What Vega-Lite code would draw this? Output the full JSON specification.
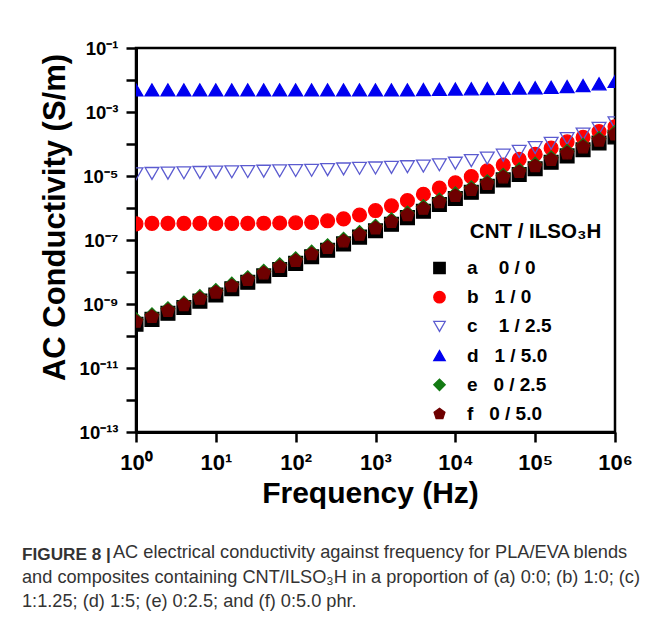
{
  "$schema": "https://vega.github.io/schema/vega-lite/v6.json",
  "width": 479,
  "height": 384,
  "autosize": "none",
  "padding": {"left": 136, "top": 48, "right": 40, "bottom": 194},
  "background": "white",
  "title": {
    "text": "FIGURE 8 |",
    "subtitle": [
      "\u200b\u00a0\u00a0\u00a0\u00a0\u00a0\u00a0\u00a0\u00a0\u00a0\u00a0\u00a0\u00a0\u00a0\u00a0\u00a0\u00a0\u00a0\u00a0AC electrical conductivity against frequency for PLA/EVA blends",
      "and composites containing CNT/ILSO\u2083H in a proportion of (a) 0:0; (b) 1:0; (c)",
      "1:1.25; (d) 1:5; (e) 0:2.5; and (f) 0:5.0 phr."
    ],
    "orient": "bottom",
    "anchor": "start",
    "frame": "group",
    "dx": -114,
    "offset": 38,
    "font": "Liberation Sans",
    "fontSize": 17.2,
    "fontWeight": "bold",
    "color": "#333333",
    "subtitleFont": "Liberation Sans",
    "subtitleFontSize": 18.2,
    "subtitleColor": "#333333",
    "subtitleLineHeight": 24.5,
    "subtitlePadding": -19
  },
  "data": {
    "values": [
      {"freq": 1, "a": 2.34e-10, "b": 3.2e-7, "c": 1.17e-5, "d": 4.9e-3, "e": 3.24e-10, "f": 2.82e-10},
      {"freq": 1.585, "a": 3.30e-10, "b": 3.3e-7, "c": 1.20e-5, "d": 4.9e-3, "e": 4.58e-10, "f": 3.98e-10},
      {"freq": 2.512, "a": 5.12e-10, "b": 3.3e-7, "c": 1.23e-5, "d": 4.9e-3, "e": 7.10e-10, "f": 6.17e-10},
      {"freq": 3.981, "a": 7.74e-10, "b": 3.3e-7, "c": 1.26e-5, "d": 4.9e-3, "e": 1.07e-9, "f": 9.33e-10},
      {"freq": 6.31, "a": 1.23e-9, "b": 3.3e-7, "c": 1.29e-5, "d": 4.9e-3, "e": 1.70e-9, "f": 1.48e-9},
      {"freq": 10, "a": 1.90e-9, "b": 3.3e-7, "c": 1.32e-5, "d": 4.9e-3, "e": 2.63e-9, "f": 2.29e-9},
      {"freq": 15.85, "a": 3.01e-9, "b": 3.3e-7, "c": 1.35e-5, "d": 4.9e-3, "e": 4.17e-9, "f": 3.63e-9},
      {"freq": 25.12, "a": 4.77e-9, "b": 3.3e-7, "c": 1.38e-5, "d": 4.9e-3, "e": 6.61e-9, "f": 5.75e-9},
      {"freq": 39.81, "a": 7.57e-9, "b": 3.35e-7, "c": 1.41e-5, "d": 4.9e-3, "e": 1.05e-8, "f": 9.12e-9},
      {"freq": 63.1, "a": 1.20e-8, "b": 3.4e-7, "c": 1.45e-5, "d": 4.9e-3, "e": 1.67e-8, "f": 1.45e-8},
      {"freq": 100, "a": 1.86e-8, "b": 3.45e-7, "c": 1.48e-5, "d": 4.9e-3, "e": 2.58e-8, "f": 2.24e-8},
      {"freq": 158.5, "a": 3.01e-8, "b": 3.55e-7, "c": 1.51e-5, "d": 4.9e-3, "e": 4.17e-8, "f": 3.63e-8},
      {"freq": 251.2, "a": 4.77e-8, "b": 3.98e-7, "c": 1.58e-5, "d": 4.9e-3, "e": 6.61e-8, "f": 5.75e-8},
      {"freq": 398.1, "a": 7.57e-8, "b": 4.57e-7, "c": 1.66e-5, "d": 4.9e-3, "e": 1.05e-7, "f": 9.12e-8},
      {"freq": 631, "a": 1.23e-7, "b": 6.03e-7, "c": 1.74e-5, "d": 4.9e-3, "e": 1.70e-7, "f": 1.48e-7},
      {"freq": 1000, "a": 1.94e-7, "b": 8.32e-7, "c": 1.78e-5, "d": 4.9e-3, "e": 2.69e-7, "f": 2.34e-7},
      {"freq": 1585, "a": 3.09e-7, "b": 1.17e-6, "c": 1.86e-5, "d": 4.9e-3, "e": 4.28e-7, "f": 3.72e-7},
      {"freq": 2512, "a": 5.00e-7, "b": 1.70e-6, "c": 1.95e-5, "d": 4.9e-3, "e": 6.93e-7, "f": 6.03e-7},
      {"freq": 3981, "a": 7.93e-7, "b": 2.69e-6, "c": 2.04e-5, "d": 5.0e-3, "e": 1.10e-6, "f": 9.55e-7},
      {"freq": 6310, "a": 1.29e-6, "b": 4.17e-6, "c": 2.24e-5, "d": 5.1e-3, "e": 1.78e-6, "f": 1.55e-6},
      {"freq": 10000, "a": 1.99e-6, "b": 6.17e-6, "c": 2.51e-5, "d": 5.2e-3, "e": 2.76e-6, "f": 2.40e-6},
      {"freq": 15850, "a": 3.09e-6, "b": 9.55e-6, "c": 3.02e-5, "d": 5.3e-3, "e": 4.28e-6, "f": 3.72e-6},
      {"freq": 25120, "a": 4.77e-6, "b": 1.45e-5, "c": 3.63e-5, "d": 5.4e-3, "e": 6.61e-6, "f": 5.75e-6},
      {"freq": 39810, "a": 7.57e-6, "b": 2.19e-5, "c": 4.47e-5, "d": 5.5e-3, "e": 1.05e-5, "f": 9.12e-6},
      {"freq": 63100, "a": 1.12e-5, "b": 3.31e-5, "c": 5.89e-5, "d": 5.6e-3, "e": 1.55e-5, "f": 1.35e-5},
      {"freq": 100000, "a": 1.69e-5, "b": 4.79e-5, "c": 7.76e-5, "d": 5.7e-3, "e": 2.35e-5, "f": 2.04e-5},
      {"freq": 158500, "a": 2.69e-5, "b": 7.41e-5, "c": 1.05e-4, "d": 5.9e-3, "e": 3.73e-5, "f": 3.24e-5},
      {"freq": 251200, "a": 4.26e-5, "b": 1.17e-4, "c": 1.48e-4, "d": 6.2e-3, "e": 5.90e-5, "f": 5.13e-5},
      {"freq": 398100, "a": 6.59e-5, "b": 1.62e-4, "c": 2.04e-4, "d": 6.7e-3, "e": 9.13e-5, "f": 7.94e-5},
      {"freq": 631000, "a": 1.07e-4, "b": 2.45e-4, "c": 3.09e-4, "d": 7.6e-3, "e": 1.48e-4, "f": 1.29e-4},
      {"freq": 1000000, "a": 1.66e-4, "b": 3.47e-4, "c": 4.57e-4, "d": 9.0e-3, "e": 2.30e-4, "f": 2.00e-4}
    ]
  },
  "transform": [
    {"fold": ["a", "b", "c", "d", "e", "f"], "as": ["series", "sigma"]}
  ],
  "mark": {"type": "point", "filled": false, "size": 190, "strokeWidth": 1.3, "opacity": 1, "clip": true},
  "encoding": {
    "x": {
      "field": "freq",
      "type": "quantitative",
      "scale": {"type": "log", "domain": [1, 1000000], "nice": false},
      "axis": {
        "title": "Frequency (Hz)",
        "values": [1, 10, 100, 1000, 10000, 100000, 1000000],
        "labelExpr": "'10' + ['\u2070','\u00b9','\u00b2','\u00b3','\u2074','\u2075','\u2076'][round(log(datum.value)/LN10)]",
        "labelFontSize": 22,
        "labelPadding": 10,
        "titleFontSize": 30,
        "titleX": 234,
        "titleY": 70,
        "titleBaseline": "alphabetic",
        "titleAlign": "center"
      }
    },
    "y": {
      "field": "sigma",
      "type": "quantitative",
      "scale": {"type": "log", "domain": [1e-13, 0.1], "nice": false},
      "axis": {
        "title": "AC Conductivity (S/m)",
        "values": [1e-13, 1e-12, 1e-11, 1e-10, 1e-9, 1e-8, 1e-7, 1e-6, 1e-5, 1e-4, 1e-3, 1e-2, 1e-1],
        "labelExpr": "round(log(datum.value)/LN10) == -1 ? '10\u207b\u00b9' : round(log(datum.value)/LN10) == -3 ? '10\u207b\u00b3' : round(log(datum.value)/LN10) == -5 ? '10\u207b\u2075' : round(log(datum.value)/LN10) == -7 ? '10\u207b\u2077' : round(log(datum.value)/LN10) == -9 ? '10\u207b\u2079' : round(log(datum.value)/LN10) == -11 ? '10\u207b\u00b9\u00b9' : round(log(datum.value)/LN10) == -13 ? '10\u207b\u00b9\u00b3' : ''",
        "labelFontSize": 18.5,
        "labelPadding": 8,
        "titleFontSize": 31,
        "titleX": -72,
        "titleY": 169,
        "titleBaseline": "alphabetic",
        "titleAlign": "center",
        "titleAngle": -90
      }
    },
    "shape": {
      "field": "series",
      "type": "nominal",
      "scale": {
        "domain": ["a", "b", "c", "d", "e", "f"],
        "range": ["square", "circle", "triangle-down", "triangle-up", "diamond", "M0,-1L0.951,-0.309L0.588,0.809L-0.588,0.809L-0.951,-0.309Z"]
      },
      "legend": {
        "title": "\u200b\u00a0\u00a0\u00a0\u00a0\u00a0\u00a0\u00a0CNT / ILSO\u2083H",
        "orient": "none",
        "legendX": 294,
        "legendY": 174,
        "labelExpr": "datum.label == 'a' ? 'a\u00a0\u00a0\u00a0\u00a00 / 0' : datum.label == 'b' ? 'b\u00a0\u00a0\u00a01 / 0' : datum.label == 'c' ? 'c\u00a0\u00a0\u00a0\u00a01 / 2.5' : datum.label == 'd' ? 'd\u00a0\u00a0\u00a01 / 5.0' : datum.label == 'e' ? 'e\u00a0\u00a0\u00a00 / 2.5' : 'f\u00a0\u00a0\u00a00 / 5.0'"
      }
    },
    "fill": {
      "field": "series",
      "type": "nominal",
      "scale": {
        "domain": ["a", "b", "c", "d", "e", "f"],
        "range": ["#000000", "#ff0000", "transparent", "#0000f0", "#137a13", "#6e0000"]
      },
      "legend": {
        "title": "\u200b\u00a0\u00a0\u00a0\u00a0\u00a0\u00a0\u00a0CNT / ILSO\u2083H",
        "orient": "none",
        "legendX": 294,
        "legendY": 174,
        "labelExpr": "datum.label == 'a' ? 'a\u00a0\u00a0\u00a0\u00a00 / 0' : datum.label == 'b' ? 'b\u00a0\u00a0\u00a01 / 0' : datum.label == 'c' ? 'c\u00a0\u00a0\u00a0\u00a01 / 2.5' : datum.label == 'd' ? 'd\u00a0\u00a0\u00a01 / 5.0' : datum.label == 'e' ? 'e\u00a0\u00a0\u00a00 / 2.5' : 'f\u00a0\u00a0\u00a00 / 5.0'"
      }
    },
    "stroke": {
      "field": "series",
      "type": "nominal",
      "scale": {
        "domain": ["a", "b", "c", "d", "e", "f"],
        "range": ["#000000", "#ff0000", "#5b5bd0", "#0000f0", "#137a13", "#6e0000"]
      },
      "legend": {
        "title": "\u200b\u00a0\u00a0\u00a0\u00a0\u00a0\u00a0\u00a0CNT / ILSO\u2083H",
        "orient": "none",
        "legendX": 294,
        "legendY": 174,
        "labelExpr": "datum.label == 'a' ? 'a\u00a0\u00a0\u00a0\u00a00 / 0' : datum.label == 'b' ? 'b\u00a0\u00a0\u00a01 / 0' : datum.label == 'c' ? 'c\u00a0\u00a0\u00a0\u00a01 / 2.5' : datum.label == 'd' ? 'd\u00a0\u00a0\u00a01 / 5.0' : datum.label == 'e' ? 'e\u00a0\u00a0\u00a00 / 2.5' : 'f\u00a0\u00a0\u00a00 / 5.0'"
      }
    },
    "order": {"field": "series", "type": "nominal"}
  },
  "config": {
    "font": "Liberation Sans",
    "view": {"stroke": "#000000", "strokeWidth": 2.5},
    "axis": {
      "grid": false,
      "domainColor": "#000000",
      "domainWidth": 3,
      "tickColor": "#000000",
      "tickWidth": 2.5,
      "tickSize": 10,
      "labelFont": "Liberation Sans",
      "labelFontWeight": "bold",
      "labelColor": "#000000",
      "titleFont": "Liberation Sans",
      "titleFontWeight": "bold",
      "titleColor": "#000000",
      "labelOverlap": false,
      "labelFlush": false
    },
    "legend": {
      "padding": 0,
      "titleFont": "Liberation Sans",
      "titleFontSize": 20.5,
      "titleFontWeight": "bold",
      "titleColor": "#000000",
      "titlePadding": 16,
      "titleLimit": 400,
      "labelFont": "Liberation Sans",
      "labelFontSize": 19,
      "labelFontWeight": "bold",
      "labelColor": "#000000",
      "labelOffset": 18,
      "labelLimit": 300,
      "symbolSize": 130,
      "symbolStrokeWidth": 1.3,
      "rowPadding": 9.2
    }
  }
}
